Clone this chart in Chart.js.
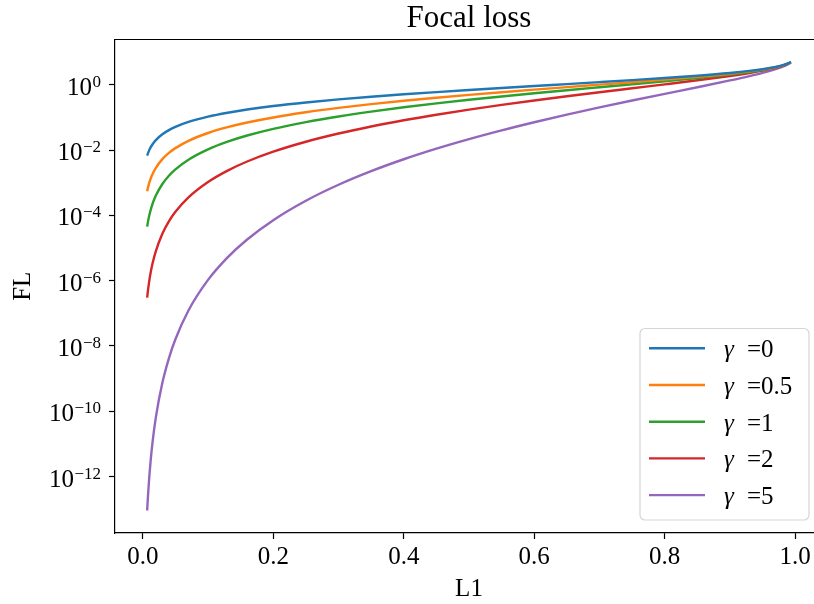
<!DOCTYPE html>
<html>
<head>
<meta charset="utf-8">
<script src="https://cdn.jsdelivr.net/npm/chart.js@4/dist/chart.umd.min.js"></script>
<style>
html,body{margin:0;padding:0;background:#fff;overflow:hidden;width:814px;height:604px;}
canvas{display:block;}
</style>
</head>
<body>
<canvas id="c" width="830" height="604"></canvas>
<script>
// ---- data ----
const titleText = 'Focal loss';
const xLabel = 'L1';
const yLabel = 'FL';
const gammas = ['0', '0.5', '1', '2', '5'];
const colors = ['#1f77b4', '#ff7f0e', '#2ca02c', '#d62728', '#9467bd'];
const xTicks = [0.0, 0.2, 0.4, 0.6, 0.8, 1.0];
const yTickExponents = [0, -2, -4, -6, -8, -10, -12];

const l1 = [0.0067, 0.008, 0.01, 0.012, 0.015, 0.02, 0.03, 0.04, 0.05, 0.07, 0.1, 0.13, 0.16, 0.2, 0.25, 0.3, 0.35, 0.4, 0.45, 0.5, 0.55, 0.6, 0.65, 0.7, 0.75, 0.8, 0.85, 0.9, 0.93, 0.95, 0.97, 0.98, 0.99, 0.9933];
const flGamma0 = [0.006723, 0.0080322, 0.010050, 0.0120726, 0.015114, 0.020203, 0.030459, 0.040822, 0.051293, 0.072571, 0.105361, 0.139262, 0.174353, 0.223144, 0.287682, 0.356675, 0.430783, 0.510826, 0.597837, 0.693147, 0.798508, 0.916291, 1.049822, 1.203973, 1.386294, 1.609438, 1.897120, 2.302585, 2.659260, 2.995732, 3.506558, 3.912023, 4.605170, 5.005648];
const flGamma05 = [0.0005503, 0.00071842, 0.001005, 0.0013225, 0.001851, 0.002857, 0.005276, 0.008164, 0.011470, 0.019200, 0.033318, 0.050212, 0.069741, 0.099793, 0.143841, 0.195359, 0.254855, 0.323075, 0.401041, 0.490129, 0.592190, 0.709755, 0.846394, 1.007316, 1.200565, 1.439525, 1.749057, 2.184424, 2.564496, 2.919877, 3.453560, 3.872703, 4.582085, 4.988854];
const flGamma1 = [4.504e-5, 6.4258e-5, 1.005e-4, 1.44871e-4, 2.267e-4, 4.041e-4, 9.138e-4, 1.633e-3, 2.565e-3, 5.080e-3, 0.010536, 0.018104, 0.027896, 0.044629, 0.071921, 0.107003, 0.150774, 0.204330, 0.269027, 0.346574, 0.439179, 0.549775, 0.682384, 0.842781, 1.039721, 1.287550, 1.612552, 2.072327, 2.473112, 2.845945, 3.401361, 3.833783, 4.559118, 4.972110];
const flGamma2 = [3.018e-7, 5.1406e-7, 1.005e-6, 1.73845e-6, 3.401e-6, 8.081e-6, 2.741e-5, 6.532e-5, 1.282e-4, 3.556e-4, 1.0536e-3, 2.354e-3, 4.463e-3, 8.926e-3, 0.017980, 0.032101, 0.052771, 0.081732, 0.121062, 0.173287, 0.241549, 0.329865, 0.443550, 0.589947, 0.779791, 1.030040, 1.370669, 1.865094, 2.300004, 2.703648, 3.299320, 3.757107, 4.513527, 4.938796];
const flGamma5 = [9.077e-14, 2.632e-13, 1.005e-12, 3.0040e-12, 1.1478e-11, 6.465e-11, 7.401e-10, 4.180e-9, 1.603e-8, 1.2197e-7, 1.0536e-6, 5.172e-6, 1.828e-5, 7.141e-5, 2.809e-4, 8.667e-4, 2.2626e-3, 5.231e-3, 0.011032, 0.021661, 0.040188, 0.071251, 0.121810, 0.202352, 0.328974, 0.527380, 0.841762, 1.359654, 1.850024, 2.318041, 3.011200, 3.536160, 4.379472, 4.840250];
const seriesValues = [flGamma0, flGamma05, flGamma1, flGamma2, flGamma5];

// ---- chart ----
const FONT = "'Liberation Serif', 'DejaVu Serif', serif";

const datasets = seriesValues.map((vals, i) => ({
  label: 'γ =' + gammas[i],
  data: l1.map((x, k) => ({x: x, y: vals[k]})),
  borderColor: colors[i],
  backgroundColor: colors[i],
  borderWidth: 2.4,
  pointRadius: 0,
  fill: false,
  cubicInterpolationMode: 'monotone'
}));

const decorations = {
  id: 'decorations',
  afterDraw(chart) {
    const ctx = chart.ctx;
    const a = chart.chartArea;
    ctx.save();
    // top and right spines
    ctx.strokeStyle = '#000';
    ctx.lineWidth = 1.2;
    ctx.beginPath();
    ctx.moveTo(a.left, a.top);
    ctx.lineTo(a.right, a.top);
    ctx.lineTo(a.right, a.bottom);
    ctx.stroke();

    // y tick labels with superscripts
    const ys = chart.scales.y;
    ctx.fillStyle = '#000';
    ctx.textBaseline = 'alphabetic';
    ys.ticks.forEach(t => {
      const py = ys.getPixelForValue(t.value);
      const e = Math.round(Math.log10(t.value));
      const sup = (e < 0 ? '\u2212' : '') + Math.abs(e);
      ctx.font = '17px ' + FONT;
      const sw = ctx.measureText(sup).width;
      const rightX = 101;
      ctx.textAlign = 'left';
      ctx.fillText(sup, rightX - sw, py + 2);
      ctx.font = '25px ' + FONT;
      ctx.textAlign = 'right';
      ctx.fillText('10', rightX - sw - 0.5, py + 10);
    });

    // title
    const cx = (a.left + a.right) / 2;
    ctx.font = '31px ' + FONT;
    ctx.textAlign = 'center';
    ctx.fillText(titleText, cx, 27);

    // x axis label
    ctx.font = '25px ' + FONT;
    ctx.fillText(xLabel, cx, 596);

    // y axis label
    ctx.save();
    ctx.translate(30, (a.top + a.bottom) / 2);
    ctx.rotate(-Math.PI / 2);
    ctx.textAlign = 'center';
    ctx.fillText(yLabel, 0, 0);
    ctx.restore();

    // legend
    const bx = 640, by = 328.5, bw = 169, bh = 191.5, r = 5;
    ctx.fillStyle = 'rgba(255,255,255,0.8)';
    ctx.strokeStyle = '#d5d5d5';
    ctx.lineWidth = 1.2;
    ctx.beginPath();
    ctx.moveTo(bx + r, by);
    ctx.lineTo(bx + bw - r, by);
    ctx.arcTo(bx + bw, by, bx + bw, by + r, r);
    ctx.lineTo(bx + bw, by + bh - r);
    ctx.arcTo(bx + bw, by + bh, bx + bw - r, by + bh, r);
    ctx.lineTo(bx + r, by + bh);
    ctx.arcTo(bx, by + bh, bx, by + bh - r, r);
    ctx.lineTo(bx, by + r);
    ctx.arcTo(bx, by, bx + r, by, r);
    ctx.closePath();
    ctx.fill();
    ctx.stroke();
    chart.data.datasets.forEach((ds, i) => {
      const rowY = 348.3 + i * 36.7;
      ctx.strokeStyle = ds.borderColor;
      ctx.lineWidth = 2.4;
      ctx.beginPath();
      ctx.moveTo(649, rowY);
      ctx.lineTo(705, rowY);
      ctx.stroke();
      ctx.fillStyle = '#000';
      ctx.textAlign = 'left';
      ctx.font = 'italic 25px ' + FONT;
      ctx.fillText('γ', 724, rowY + 9);
      ctx.font = '25px ' + FONT;
      ctx.fillText('=' + gammas[i], 747, rowY + 9);
    });
    ctx.restore();
  }
};

new Chart(document.getElementById('c'), {
  type: 'line',
  data: {datasets: datasets},
  options: {
    responsive: false,
    animation: false,
    devicePixelRatio: 1,
    layout: {padding: {left: 0, top: 39.5, right: 7, bottom: 0}},
    plugins: {legend: {display: false}, title: {display: false}, tooltip: {enabled: false}},
    scales: {
      x: {
        type: 'linear',
        min: -0.0426,
        max: 1.0426,
        afterBuildTicks: s => { s.ticks = xTicks.map(v => ({value: v})); },
        afterFit: s => { s.height = 71; },
        ticks: {
          autoSkip: false, maxRotation: 0, padding: 3, color: '#000',
          font: {family: FONT, size: 25},
          callback: v => Number(v).toFixed(1)
        },
        grid: {drawOnChartArea: false, drawTicks: true, tickLength: 6, color: '#000', tickWidth: 1.2},
        border: {display: true, color: '#000', width: 1.2}
      },
      y: {
        type: 'logarithmic',
        min: Math.pow(10, -13.73),
        max: Math.pow(10, 1.387),
        afterBuildTicks: s => { s.ticks = yTickExponents.map(e => ({value: Math.pow(10, e)})); },
        afterFit: s => { s.width = 115; },
        ticks: {display: false},
        grid: {drawOnChartArea: false, drawTicks: true, tickLength: 6, color: '#000', tickWidth: 1.2},
        border: {display: true, color: '#000', width: 1.2}
      }
    }
  },
  plugins: [decorations]
});
</script>
</body>
</html>
